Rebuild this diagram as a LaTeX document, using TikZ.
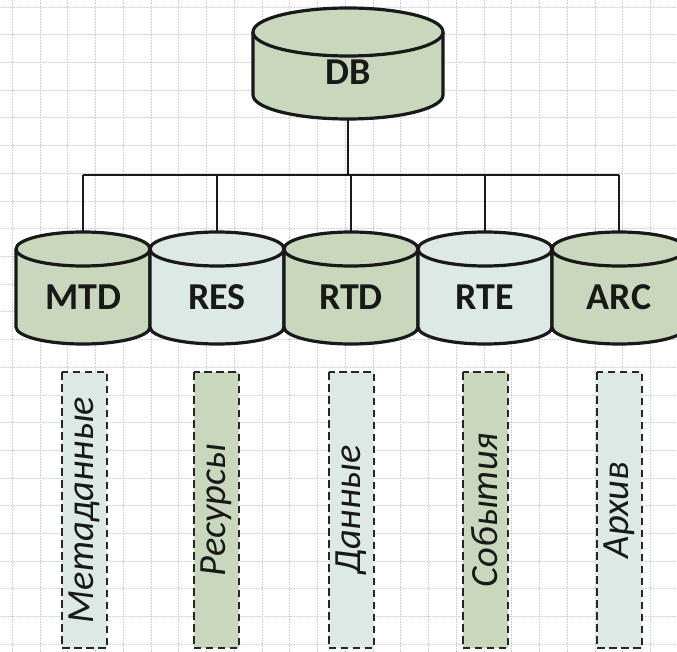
\documentclass[tikz,border=0pt]{standalone}
\usepackage{fontspec}
\setmainfont{Carlito}
\definecolor{cgreen}{HTML}{C9D8BC}
\definecolor{clight}{HTML}{DCE9E5}
\definecolor{cgrid}{HTML}{CDCDD2}
\newcommand\mycyl[9]{%
  \fill[#7] (#2-#5,#3) -- (#2-#5,#4) arc[start angle=180,end angle=360,x radius=#5pt,y radius=#6pt] -- (#2+#5,#3) arc[start angle=0,end angle=180,x radius=#5pt,y radius=#6pt] -- cycle;
  \draw[cylline] (#2-#5,#3) -- (#2-#5,#4) arc[start angle=180,end angle=360,x radius=#5pt,y radius=#6pt] -- (#2+#5,#3);
  \draw[cylline,fill=#7] (#2,#3) ellipse[x radius=#5pt,y radius=#6pt];
  \coordinate (#1top) at (#2,#3-#6);
  \coordinate (#1bot) at (#2,#4+#6);
  \node[cyllabel] (#1) at (#2,{(#3+#4)/2+9}) {#8};
}
\begin{document}
\begin{tikzpicture}[x=1pt,y=-1pt,
  cylline/.style={line width=3.2pt,draw=black!90,line join=round},
  cyllabel/.style={font=\fontsize{38}{40}\selectfont\bfseries,text=black!90,inner sep=0pt},
  conn/.style={line width=2.8pt,draw=black!90},
  vbox/.style={draw=black!85,line width=2pt,dash pattern=on 7.5pt off 4.5pt,rotate=90,minimum width=276pt,minimum height=45pt,inner sep=0pt,font=\fontsize{38.5}{40}\selectfont\itshape,text=black!90},
  gridl/.style={cgrid,line width=0.6pt,densely dotted}]
\useasboundingbox (0,0) rectangle (677,652);
\clip (0,0) rectangle (677,652);
\fill[white] (0,0) rectangle (677,652);
% grid
\foreach \k in {0,...,24} {\draw[gridl] ({12.25+27.75*\k},0) -- ({12.25+27.75*\k},652);}
\foreach \k in {0,...,23} {\draw[gridl] (0,{7+27.7*\k}) -- (677,{7+27.7*\k});}
% connectors
\coordinate (bus1) at (83,175);
\coordinate (bus2) at (217,175);
\coordinate (bus3) at (348,175);
\coordinate (bus4) at (485,175);
\coordinate (bus5) at (619,175);
\coordinate (busrtd) at (351,175);
\draw[conn] (bus1) -- (bus5);
\mycyl{db}{348}{32}{95}{95}{24}{cgreen}{DB}{}
\draw[conn] (dbbot) -- (bus3);
\mycyl{mtd}{83}{249}{327}{67}{17}{cgreen}{MTD}{}
\mycyl{res}{217}{249}{327}{67}{17}{clight}{RES}{}
\mycyl{rtd}{351}{249}{327}{67}{17}{cgreen}{RTD}{}
\mycyl{rte}{485}{249}{327}{67}{17}{clight}{RTE}{}
\mycyl{arc}{619}{249}{327}{67}{17}{cgreen}{ARC}{}
\draw[conn] (bus1) -- (mtdtop);
\draw[conn] (bus2) -- (restop);
\draw[conn] (busrtd) -- (rtdtop);
\draw[conn] (bus4) -- (rtetop);
\draw[conn] (bus5) -- (arctop);
% dashed boxes
\node[vbox,fill=clight] (b1) at (84.5,510) {Метаданные};
\node[vbox,fill=cgreen] (b2) at (216,510) {Ресурсы};
\node[vbox,fill=clight] (b3) at (351,510) {Данные};
\node[vbox,fill=cgreen] (b4) at (485,510) {События};
\node[vbox,fill=clight] (b5) at (619.5,510) {Архив};
\end{tikzpicture}
\end{document}
